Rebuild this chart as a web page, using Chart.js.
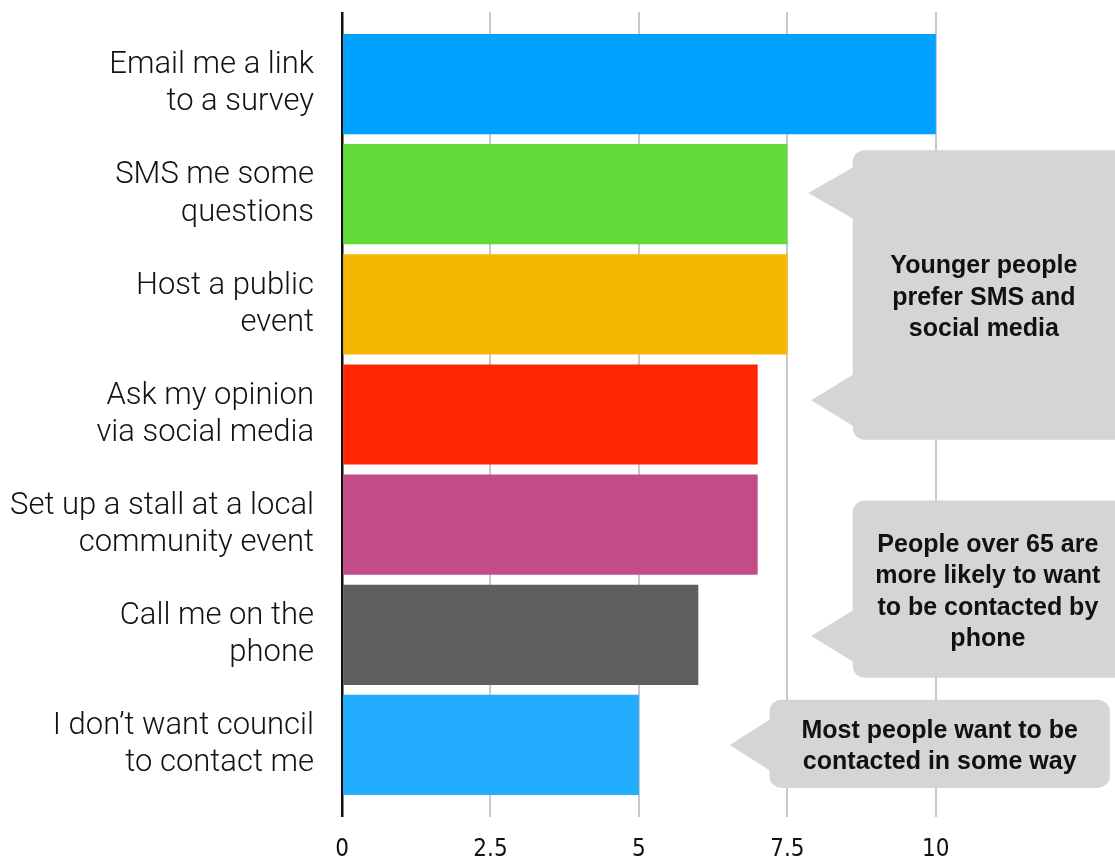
<!DOCTYPE html>
<html>
<head>
<meta charset="utf-8">
<script src="https://cdn.jsdelivr.net/npm/chart.js@4/dist/chart.umd.min.js"></script>
<style>
    html, body { margin: 0; padding: 0; background: #fff; }
    #wrap { width: 1115px; height: 860px; }
</style>
</head>
<body>
<div id="wrap"><canvas id="contactChart"></canvas></div>
<script>
const categories = [
    ["Email me a link", "to a survey"],
    ["SMS me some", "questions"],
    ["Host a public", "event"],
    ["Ask my opinion", "via social media"],
    ["Set up a stall at a local", "community event"],
    ["Call me on the", "phone"],
    ["I don\u2019t want council", "to contact me"],
];
const scores = [10, 7.5, 7.5, 7, 7, 6, 5];
const barColors = ["#00a2ff", "#61da3a", "#f5b800", "#ff2600", "#c34b87", "#5f5f5f", "#22adff"];
const tickValues = [0, 2.5, 5, 7.5, 10];

// Speech-bubble notes, placed in axis units (x = score, y = category index)
const notes = [
    { lines: ["Younger people", "prefer SMS and", "social media"], x0: 8.6, x1: 13.3, y0: 0.6, y1: 3.23, tips: [{ x: 7.85, y: 0.99 }, { x: 7.9, y: 2.87 }], shift: 0 },
    { lines: ["People over 65 are", "more likely to want", "to be contacted by", "phone"], x0: 8.6, x1: 13.3, y0: 3.78, y1: 5.39, tips: [{ x: 7.9, y: 5.01 }], shift: 4 },
    { lines: ["Most people want to be", "contacted in some way"], x0: 7.2, x1: 12.93, y0: 5.59, y1: 6.39, tips: [{ x: 6.53, y: 6.0 }], shift: 0 },
];

/*
 * Draws the grey notes on top of the bars */
const notesPlugin = {
    id: "notes",
    afterDraw(chart) {
        const ctx = chart.ctx;
        const xs = chart.scales.x;
        const ys = chart.scales.y;
        ctx.save();
        notes.forEach((n) => {
            const left = xs.getPixelForValue(n.x0);
            const right = xs.getPixelForValue(n.x1);
            const top = ys.getPixelForValue(n.y0);
            const bottom = ys.getPixelForValue(n.y1);
            ctx.fillStyle = "#d5d5d5";
            ctx.beginPath();
            ctx.roundRect(left, top, right - left, bottom - top, 12);
            ctx.fill();
            n.tips.forEach((t) => {
                const tx = xs.getPixelForValue(t.x);
                const ty = ys.getPixelForValue(t.y);
                ctx.beginPath();
                ctx.moveTo(left + 1, ty - 26);
                ctx.lineTo(tx, ty);
                ctx.lineTo(left + 1, ty + 26);
                ctx.closePath();
                ctx.fill();
            });
            ctx.fillStyle = "#111";
            ctx.font = "bold 25px 'Liberation Sans', Arial, sans-serif";
            ctx.textAlign = "center";
            ctx.textBaseline = "middle";
            const lh = 31.5;
            const cx = (left + Math.min(right, chart.width)) / 2 + n.shift;
            // nudge down a little so caps sit visually centred
            const cy = (top + bottom) / 2 - ((n.lines.length - 1) * lh) / 2 + 3;
            n.lines.forEach((line, i) => ctx.fillText(line, cx, cy + i * lh));
        });
        ctx.restore();
    },
};

const keepTicks = (scale) => {
    scale.ticks = tickValues.map((v) => ({ value: v }));
};

const gridColor = (c) => (c.tick && c.tick.value === 0 ? "#111" : "#c8c8c8");
const gridWidth = (c) => (c.tick && c.tick.value === 0 ? 2.5 : 2);

new Chart(document.getElementById("contactChart"), {
    type: "bar",
    data: {
        labels: categories,
        datasets: [
            {
                label: "Preferred contact",
                data: scores,
                backgroundColor: barColors,
                borderWidth: 0,
                categoryPercentage: 1,
                barPercentage: 0.91,
            },
        ],
    },
    options: {
        indexAxis: "y",
        responsive: true,
        maintainAspectRatio: false,
        animation: false,
        layout: { padding: { top: 12, right: 1, left: 0, bottom: 0 } },
        plugins: {
            legend: { display: false },
            tooltip: { enabled: false },
        },
        scales: {
            x: {
                type: "linear",
                position: "bottom",
                min: 0,
                max: 13,
                afterBuildTicks: keepTicks,
                afterFit: (scale) => {
                    scale.height = 60;
                },
                border: { display: false },
                grid: { color: gridColor, lineWidth: gridWidth, tickLength: 17 },
                ticks: {
                    padding: 18,
                    color: "#111",
                    font: { family: "'Liberation Sans Narrow', 'DejaVu Sans Condensed', sans-serif", size: 24 },
                },
            },
            xTop: {
                type: "linear",
                position: "top",
                min: 0,
                max: 13,
                afterBuildTicks: keepTicks,
                border: { display: false },
                grid: { color: gridColor, lineWidth: gridWidth, tickLength: 17, drawOnChartArea: false },
                ticks: { display: false },
            },
            y: {
                type: "category",
                border: { display: false },
                grid: { display: false },
                afterFit: (scale) => {
                    // labels sit inside the category bands, no extra room needed
                    scale.width = 342;
                    scale.paddingTop = 0;
                    scale.paddingBottom = 0;
                },
                ticks: {
                    padding: 20,
                    color: "#111",
                    font: { family: "Roboto, sans-serif", size: 31, weight: 300, lineHeight: 1.2 },
                },
            },
        },
    },
    plugins: [notesPlugin],
});
</script>
</body>
</html>
